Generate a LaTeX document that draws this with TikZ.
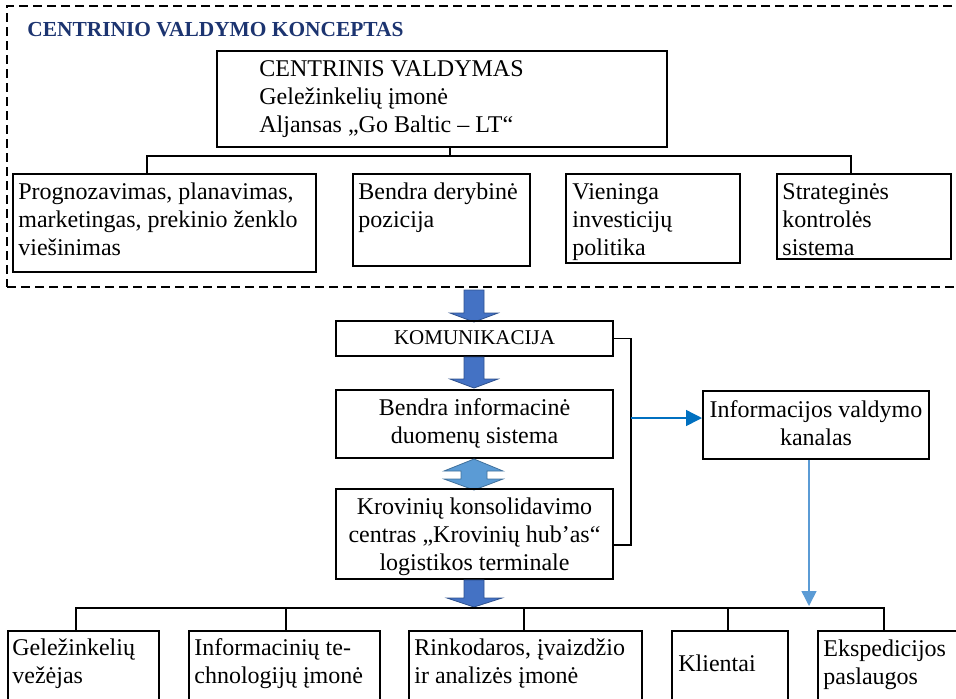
\documentclass[tikz,border=0pt]{standalone}
\usepackage{fontspec}
\setmainfont{Liberation Serif}
\usetikzlibrary{fit,arrows.meta,calc}
\definecolor{ttl}{RGB}{28,52,112}
\definecolor{arrblue}{RGB}{68,114,196}
\definecolor{arrborder}{RGB}{47,82,143}
\definecolor{lblue}{RGB}{91,155,213}
\definecolor{lbborder}{RGB}{65,113,156}
\definecolor{midblue}{RGB}{0,112,192}
\begin{document}
\begin{tikzpicture}[x=0.5pt,y=-0.5pt,
  box/.style={draw, line width=1pt, inner sep=0pt},
  txt/.style={inner sep=0pt, font=\fontsize{12}{14}\selectfont, align=left, anchor=base west},
  ctxt/.style={inner sep=0pt, font=\fontsize{12}{14}\selectfont, align=center, anchor=base},
  conn/.style={line width=0.75pt},
  framebox/.style={draw, line width=0.6pt, dash pattern=on 4.5pt off 2.5pt, inner sep=0pt},
  blockarrow/.style={fill=arrblue, draw=arrborder, line width=0.4pt},
  dblarrow/.style={fill=lblue, draw=lbborder, line width=0.4pt}]
\useasboundingbox (0,0) rectangle (956,698);
\clip (0,0) rectangle (956,698);

% dashed frame and title
\node[framebox, fit={(7,6) (990,287)}] (frame) {};
\node[anchor=base west, inner sep=0pt, font=\bfseries\fontsize{10.7}{12}\selectfont, text=ttl] (title) at (27,36) {CENTRINIO VALDYMO KONCEPTAS};

% top box (anchors at the baseline of the last line)
\node[box, fit={(217,51) (667,147)}] (top) {};
\node[txt] (topt) at (259,132) {CENTRINIS VALDYMAS\\Geležinkelių įmonė\\Aljansas „Go Baltic – LT“};

% first row
\node[box, fit={(13,174) (316,272)}] (p1) {};
\node[txt] (p1t) at (18,255) {Prognozavimas, planavimas,\\marketingas, prekinio ženklo\\viešinimas};
\node[box, fit={(353,174) (530,266)}] (p2) {};
\node[txt] (p2t) at (358,227) {Bendra derybinė\\pozicija};
\node[box, fit={(566,174) (740,263)}] (p3) {};
\node[txt] (p3t) at (572,255) {Vieninga\\investicijų\\politika};
\node[box, fit={(777,174) (951,259)}] (p4) {};
\node[txt] (p4t) at (782,255) {Strateginės\\kontrolės\\sistema};

\coordinate (tj) at (450,156);
\coordinate (hl) at (147,156);
\coordinate (hr) at (851,156);
\draw[conn] (top.south -| tj) -- (tj);
\draw[conn] (p1.north -| hl) -- (hl) -- (hr) -- (p4.north -| hr);

% middle column
\draw[blockarrow] (464,290) -- (484,290) -- (484,313) -- (498,313) -- (474,322) -- (450,313) -- (464,313) -- cycle;
\node[box, fit={(336,321) (613,356)}] (kom) {};
\node[inner sep=0pt, anchor=base, font=\fontsize{10.5}{12}\selectfont] (komt) at (474.5,344) {KOMUNIKACIJA};
\draw[blockarrow] (464,357) -- (484,357) -- (484,379) -- (498,379) -- (474,388) -- (450,379) -- (464,379) -- cycle;
\node[box, fit={(336,390) (613,458)}] (inf) {};
\node[ctxt] (inft) at (474.5,443) {Bendra informacinė\\duomenų sistema};
\draw[dblarrow] (474,459) -- (503,471) -- (487,471) -- (487,479) -- (503,479) -- (474,490) -- (444,479) -- (461,479) -- (461,471) -- (444,471) -- cycle;
\node[box, fit={(336,489) (613,579)}] (krov) {};
\node[ctxt] (krovt) at (474.5,570) {Krovinių konsolidavimo\\centras „Krovinių hub’as“\\logistikos terminale};
\draw[blockarrow] (464,580) -- (484,580) -- (484,598) -- (502,598) -- (474,607) -- (447,598) -- (464,598) -- cycle;

% bracket and information channel
\coordinate (brk) at (631,545);
\draw[conn] (kom.east) -| (brk) -- (brk -| krov.east);
\node[box, fit={(703,391) (929,459)}] (chan) {};
\node[ctxt] (chant) at (816,445) {Informacijos valdymo\\kanalas};
\coordinate (bx) at (631,418);
\draw[midblue, line width=0.7pt, -{Triangle[length=8pt,width=8pt]}] (bx) -- (bx -| chan.west);
\coordinate (lb) at (809,606);
\draw[lblue, line width=0.7pt, -{Triangle[length=7.5pt,width=7.5pt]}] (chan.south -| lb) -- (lb);

% bottom row
\node[box, fit={(8,631) (159,720)}] (b1) {};
\node[txt] (b1t) at (12,683) {Geležinkelių\\vežėjas};
\node[box, fit={(189,631) (380,720)}] (b2) {};
\node[txt] (b2t) at (194,683) {Informacinių te-\\chnologijų įmonė};
\node[box, fit={(409,631) (642,720)}] (b3) {};
\node[txt] (b3t) at (414,683) {Rinkodaros, įvaizdžio\\ir analizės įmonė};
\node[box, fit={(672,631) (788,720)}] (b4) {};
\node[txt] (b4t) at (678,671) {Klientai};
\node[box, fit={(818,631) (990,720)}] (b5) {};
\node[txt] (b5t) at (823,684) {Ekspedicijos\\paslaugos};

\coordinate (bl) at (76,608);
\coordinate (br) at (884,608);
\coordinate (c2) at (286,608);
\coordinate (c3) at (524,608);
\coordinate (c4) at (728,608);
\draw[conn] (b1.north -| bl) -- (bl) -- (br) -- (b5.north -| br);
\draw[conn] (c2) -- (b2.north -| c2);
\draw[conn] (c3) -- (b3.north -| c3);
\draw[conn] (c4) -- (b4.north -| c4);
\end{tikzpicture}
\end{document}
